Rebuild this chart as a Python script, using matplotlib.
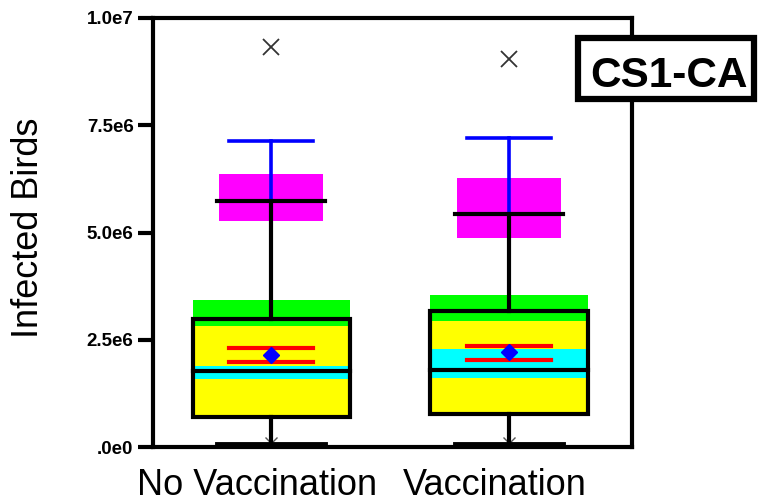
import matplotlib
matplotlib.use("Agg")
import matplotlib.pyplot as plt
import matplotlib.transforms as mtransforms
from matplotlib.patches import Rectangle

plt.rcParams['font.family'] = ['Liberation Sans', 'DejaVu Sans']

# data
groups = ['No Vaccination', 'Vaccination']
positions = [1, 2]
q1 = [0.70e6, 0.76e6]
q3 = [2.98e6, 3.17e6]
median = [1.77e6, 1.79e6]
median_ci_lo = [1.58e6, 1.62e6]
median_ci_hi = [1.89e6, 2.29e6]
q3_ci_lo = [2.82e6, 2.94e6]
q3_ci_hi = [3.43e6, 3.54e6]
mean = [2.14e6, 2.22e6]
mean_ci_lo = [1.97e6, 2.02e6]
mean_ci_hi = [2.31e6, 2.36e6]
whisk_lo = [0.06e6, 0.06e6]
whisk_hi = [5.73e6, 5.42e6]
whisk_hi_ci_lo = [5.27e6, 4.88e6]
whisk_hi_ci_hi = [6.36e6, 6.28e6]
upper_ext = [7.13e6, 7.21e6]
outliers_hi = [9.32e6, 9.04e6]
outliers_lo = [0.10e6, 0.10e6]

yticks = [0, 2.5e6, 5.0e6, 7.5e6, 1.0e7]
ytick_labels = ['.0e0', '2.5e6', '5.0e6', '7.5e6', '1.0e7']
panel_label = 'CS1-CA'

fig = plt.figure(figsize=(7.58, 5.04), dpi=100)
ax = fig.add_axes([153 / 758, 57 / 504, 479 / 758, 429 / 504])

box_w = 0.66
cap_w = 0.455
ci_w = 0.44
inner_w = 0.35

for i, x in enumerate(positions):
    # box fill and confidence bands
    ax.add_patch(Rectangle((x - box_w / 2, q1[i]), box_w, q3[i] - q1[i],
                           facecolor='#ffff00', edgecolor='none', zorder=1))
    ax.add_patch(Rectangle((x - box_w / 2, q3_ci_lo[i]), box_w, q3_ci_hi[i] - q3_ci_lo[i],
                           facecolor='#00ff00', edgecolor='none', zorder=2))
    ax.add_patch(Rectangle((x - box_w / 2, median_ci_lo[i]), box_w, median_ci_hi[i] - median_ci_lo[i],
                           facecolor='#00ffff', edgecolor='none', zorder=2))
    ax.add_patch(Rectangle((x - ci_w / 2, whisk_hi_ci_lo[i]), ci_w, whisk_hi_ci_hi[i] - whisk_hi_ci_lo[i],
                           facecolor='#ff00ff', edgecolor='none', zorder=2))
    # box outline
    ax.add_patch(Rectangle((x - box_w / 2, q1[i]), box_w, q3[i] - q1[i],
                           facecolor='none', edgecolor='black', lw=3, zorder=4))
    # whiskers
    ax.plot([x, x], [q3[i], whisk_hi[i]], color='black', lw=3, zorder=3)
    ax.plot([x, x], [whisk_hi[i], upper_ext[i]], color='#0000ff', lw=2.6, zorder=3)
    ax.plot([x, x], [q1[i], whisk_lo[i]], color='black', lw=3, zorder=3)
    ax.plot([x - cap_w / 2, x + cap_w / 2], [whisk_hi[i]] * 2, color='black', lw=3, zorder=4)
    ax.plot([x - cap_w / 2, x + cap_w / 2], [whisk_lo[i]] * 2, color='black', lw=3.5,
            zorder=4, clip_on=False)
    ax.plot([x - inner_w / 2, x + inner_w / 2], [upper_ext[i]] * 2, color='#0000ff', lw=2.6, zorder=4)
    # median
    ax.plot([x - box_w / 2, x + box_w / 2], [median[i]] * 2, color='black', lw=3, zorder=5)
    # mean and its CI
    ax.plot([x - inner_w / 2, x + inner_w / 2], [mean_ci_hi[i]] * 2, color='#ff0000', lw=3, zorder=5)
    ax.plot([x - inner_w / 2, x + inner_w / 2], [mean_ci_lo[i]] * 2, color='#ff0000', lw=3, zorder=5)
    ax.plot(x, mean[i], marker='D', color='#0000ff', markersize=8, zorder=6)
    # outliers
    ax.plot(x, outliers_hi[i], marker='x', color='#333333', markersize=11, mew=1.3, zorder=3)
    ax.plot(x, outliers_lo[i], marker='x', color='#555555', markersize=9, mew=1.0, zorder=2)

ax.set_xlim(0.504, 2.517)
ax.set_ylim(0, 1.0e7)

for s in ax.spines.values():
    s.set_linewidth(3)

ax.set_yticks(yticks)
ax.set_yticklabels(ytick_labels, fontsize=13.5, fontweight='bold')
ax.tick_params(axis='y', length=11, width=3, pad=3)

ax.set_xticks(positions)
ax.set_xticklabels(groups, fontsize=26)
ax.tick_params(axis='x', length=0, pad=15)
offset = mtransforms.ScaledTranslation(-0.14, 0, fig.dpi_scale_trans)
for lab in ax.get_xticklabels():
    lab.set_transform(lab.get_transform() + offset)

fig.text(28.5 / 758, 1 - 227.5 / 504, 'Infected Birds', rotation=90,
         ha='center', va='center', fontsize=26)

# panel label box
fig.patches.append(Rectangle((578 / 758, 1 - 99 / 504), 176 / 758, 61 / 504,
                             transform=fig.transFigure, facecolor='white',
                             edgecolor='black', lw=4.5, zorder=10))
fig.text(669 / 758, 1 - 87 / 504, panel_label, ha='center', va='baseline',
         fontsize=30.5, fontweight='bold', zorder=11)

fig.savefig('out.png', dpi=100)
